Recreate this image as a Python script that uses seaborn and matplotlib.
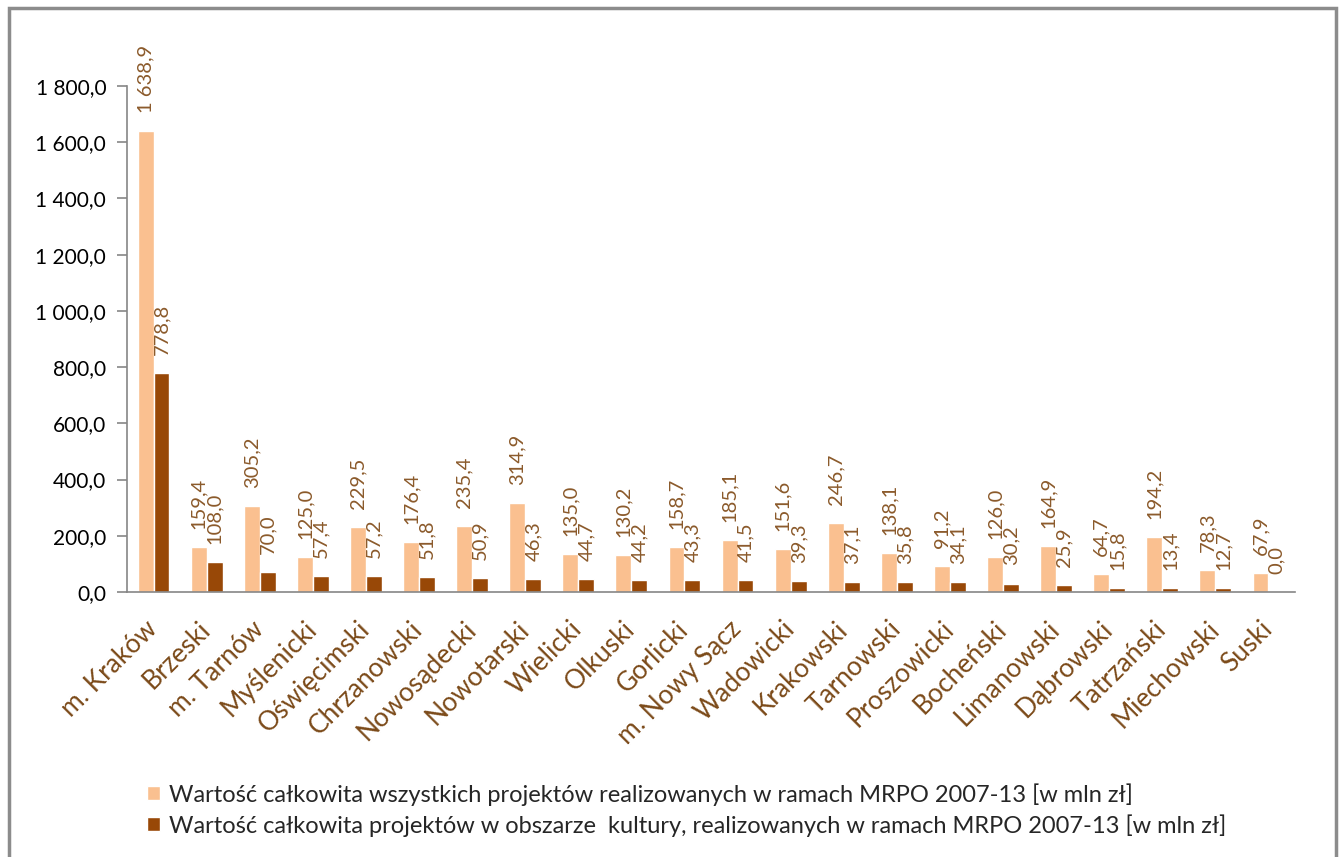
import pandas as pd
import numpy as np
import matplotlib
matplotlib.use("Agg")
import matplotlib.pyplot as plt
import seaborn as sns
from matplotlib.patches import Rectangle

# dane z wykresu
powiaty = ["m. Kraków", "Brzeski", "m. Tarnów", "Myślenicki", "Oświęcimski",
           "Chrzanowski", "Nowosądecki", "Nowotarski", "Wielicki", "Olkuski",
           "Gorlicki", "m. Nowy Sącz", "Wadowicki", "Krakowski", "Tarnowski",
           "Proszowicki", "Bocheński", "Limanowski", "Dąbrowski", "Tatrzański",
           "Miechowski", "Suski"]
wszystkie = [1638.9, 159.4, 305.2, 125.0, 229.5, 176.4, 235.4, 314.9, 135.0, 130.2,
             158.7, 185.1, 151.6, 246.7, 138.1, 91.2, 126.0, 164.9, 64.7, 194.2,
             78.3, 67.9]
kultura = [778.8, 108.0, 70.0, 57.4, 57.2, 51.8, 50.9, 46.3, 44.7, 44.2,
           43.3, 41.5, 39.3, 37.1, 35.8, 34.1, 30.2, 25.9, 15.8, 13.4,
           12.7, 0.0]
seria1 = "Wartość całkowita wszystkich projektów realizowanych w ramach MRPO 2007-13 [w mln zł]"
seria2 = "Wartość całkowita projektów w obszarze  kultury, realizowanych w ramach MRPO 2007-13 [w mln zł]"

df = pd.DataFrame({
    "powiat": powiaty * 2,
    "wartosc": wszystkie + kultura,
    "seria": [seria1] * len(powiaty) + [seria2] * len(powiaty),
})

jasny = "#FAC090"
ciemny = "#984807"
szary = "#868686"
braz = "#7B4A19"

sns.set_theme(style="white")
plt.rcParams['font.family'] = ['Lato', 'DejaVu Sans']


def pl(v):
    return f"{v:,.1f}".replace(",", " ").replace(".", ",")


fig = plt.figure(figsize=(13.4, 8.57), dpi=100)
ax = fig.add_axes([127 / 1340, 1 - 592 / 857, (1295 - 127) / 1340, (592 - 86) / 857])

sns.barplot(data=df, x="powiat", y="wartosc", hue="seria", palette=[jasny, ciemny],
            width=0.6, saturation=1, ax=ax)

for c in ax.containers:
    ax.bar_label(c, labels=[pl(v) for v in c.datavalues], rotation=90, padding=13,
                 color="#8B5A2B", fontsize=14.5)

# osie
ax.set_ylim(0, 1800)
ax.set_xlim(-0.5, len(powiaty) - 0.5)
ax.set_yticks(np.arange(0, 1801, 200))
ax.set_yticklabels([pl(v) for v in np.arange(0, 1801, 200)], fontsize=15, color="black")
ax.set_xticks(range(len(powiaty)))
ax.set_xticklabels(powiaty, rotation=45, ha="right", va="center", rotation_mode="anchor",
                   fontsize=19, color=braz)
ax.set_xticks(np.arange(-0.5, len(powiaty), 1), minor=True)
ax.tick_params(axis="x", which="major", length=0, pad=24)
ax.tick_params(axis="x", which="minor", length=9, color=szary, direction="out", width=1.2)
ax.tick_params(axis="y", length=7, color=szary, direction="out", width=1.2, pad=8, left=True)
ax.set_xlabel("")
ax.set_ylabel("")
for s in ["top", "right"]:
    ax.spines[s].set_visible(False)
for s in ["left", "bottom"]:
    ax.spines[s].set_color(szary)
    ax.spines[s].set_linewidth(1.2)

# legenda
h, l = ax.get_legend_handles_labels()
ax.legend(h, l, loc="upper left", bbox_to_anchor=(147 / 1340, 1 - 783 / 857),
          bbox_transform=fig.transFigure, frameon=False, fontsize=17,
          handlelength=0.55, handleheight=0.55, handletextpad=0.4, labelspacing=0.35,
          borderaxespad=0, borderpad=0)

# ramka
fig.patches.append(Rectangle((9 / 1340, -0.01), 1327 / 1340, 1.01 - 8 / 857,
                             transform=fig.transFigure, fill=False,
                             edgecolor="#8c8c8c", linewidth=2.5))

fig.savefig("out.png", dpi=100)
